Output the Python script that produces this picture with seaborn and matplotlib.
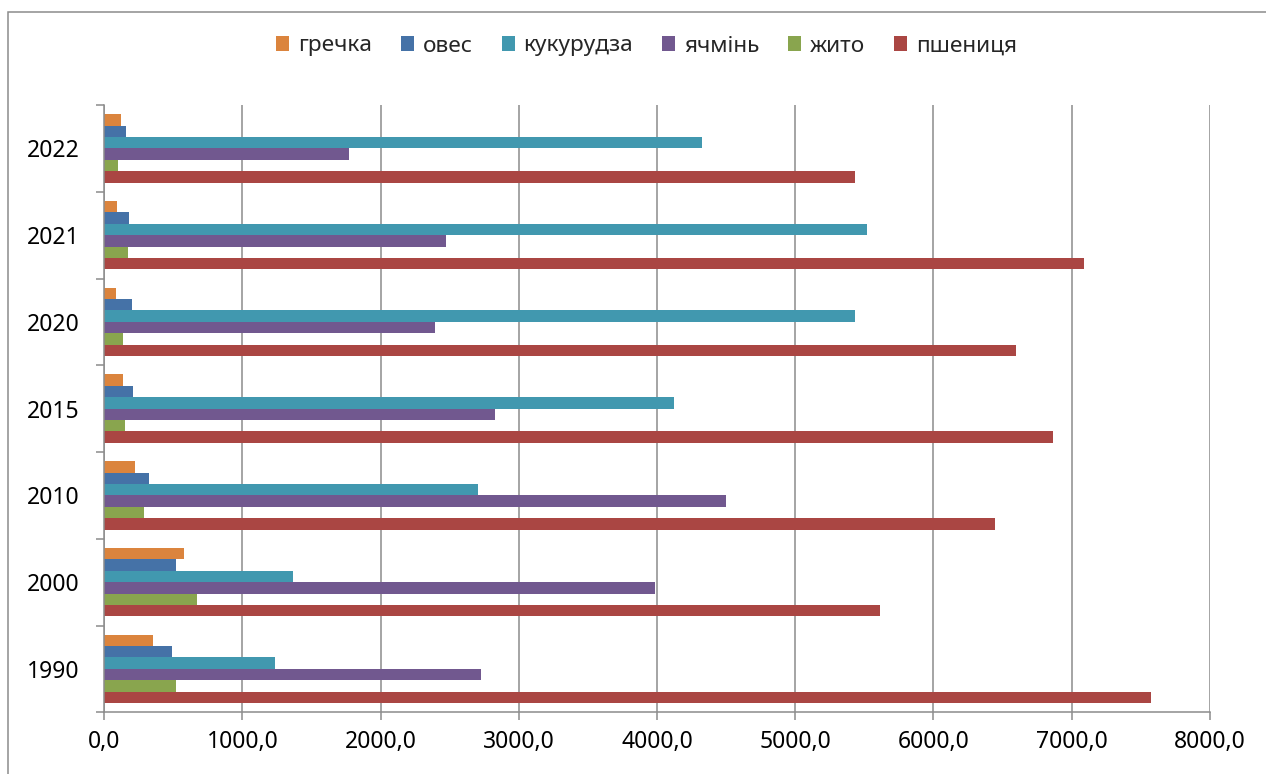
import numpy as np
import pandas as pd
import matplotlib
matplotlib.use("Agg")
import matplotlib.pyplot as plt
from matplotlib.ticker import FuncFormatter, FixedLocator, MultipleLocator
from matplotlib.patches import Rectangle
import seaborn as sns

# Посівні культури по роках
years = ["2022", "2021", "2020", "2015", "2010", "2000", "1990"]
crops = ["гречка", "овес", "кукурудза", "ячмінь", "жито", "пшениця"]

grechka = [121, 89, 85, 133, 224, 574, 352]
oves = [155, 176, 200, 210, 326, 519, 492]
kukurudza = [4323, 5521, 5432, 4122, 2706, 1363, 1233]
yachmin = [1773, 2475, 2394, 2825, 4501, 3983, 2728]
zhyto = [102, 171, 138, 150, 285, 668, 516]
pshenytsia = [5434, 7091, 6595, 6865, 6447, 5615, 7574]

colors = ["#DB843D", "#4572A7", "#4198AF", "#71588F", "#89A54E", "#AA4643"]

series = [grechka, oves, kukurudza, yachmin, zhyto, pshenytsia]
df = pd.DataFrame(
    [(y, c, v) for c, vals in zip(crops, series) for y, v in zip(years, vals)],
    columns=["year", "crop", "value"],
)

sns.set_theme(style="white")
plt.rcParams["font.family"] = ["Noto Sans", "DejaVu Sans"]

fig = plt.figure(figsize=(12.66, 7.74), dpi=100)
ax = fig.add_axes([104.3 / 1266, 1 - 712.3 / 774,
                   (1209.7 - 104.3) / 1266, (712.3 - 105) / 774])

sns.barplot(data=df, x="value", y="year", hue="crop", order=years,
            hue_order=crops, palette=colors, orient="h", width=0.79,
            gap=0, linewidth=0, saturation=1, ax=ax, legend=True)

grid_c = "#8C8C8C"
ax.set_xlim(0, 8000)
ax.set_ylim(6.5, -0.5)
ax.xaxis.set_major_locator(MultipleLocator(1000))
ax.xaxis.set_major_formatter(FuncFormatter(lambda v, _: f"{v:.1f}".replace(".", ",")))
ax.grid(axis="x", color=grid_c, linewidth=1.1)
ax.grid(axis="y", visible=False)
ax.set_axisbelow(True)

ax.yaxis.set_minor_locator(FixedLocator(np.arange(-0.5, 7, 1)))
ax.tick_params(axis="y", which="major", length=0, pad=18, labelsize=16.5, colors="black")
ax.tick_params(axis="y", which="minor", left=True, length=5.8, width=1.1, color=grid_c)
ax.tick_params(axis="x", which="major", bottom=True, length=5.8, width=1.1,
               color=grid_c, pad=7, labelsize=16.5, labelcolor="black")

for side in ["top", "right"]:
    ax.spines[side].set_visible(False)
for side in ["left", "bottom"]:
    ax.spines[side].set_color(grid_c)
    ax.spines[side].set_linewidth(1.1)

ax.set_xlabel("")
ax.set_ylabel("")

handles, labels = ax.get_legend_handles_labels()
ax.legend_.remove()
fig.legend(handles, labels, loc="center", bbox_to_anchor=(0.5 + 13.5 / 1266, 1 - 46 / 774),
           ncol=6, frameon=False, fontsize=16.3, handlelength=0.58,
           handleheight=0.58, handletextpad=0.38, columnspacing=1.28)

# рамка діаграми
fig.patches.append(Rectangle((8 / 1266, -0.1), 1.2, 1.1 - 12 / 774,
                             transform=fig.transFigure, fill=False,
                             edgecolor=grid_c, linewidth=1.1))

fig.savefig("out.png", dpi=100, facecolor="white")
